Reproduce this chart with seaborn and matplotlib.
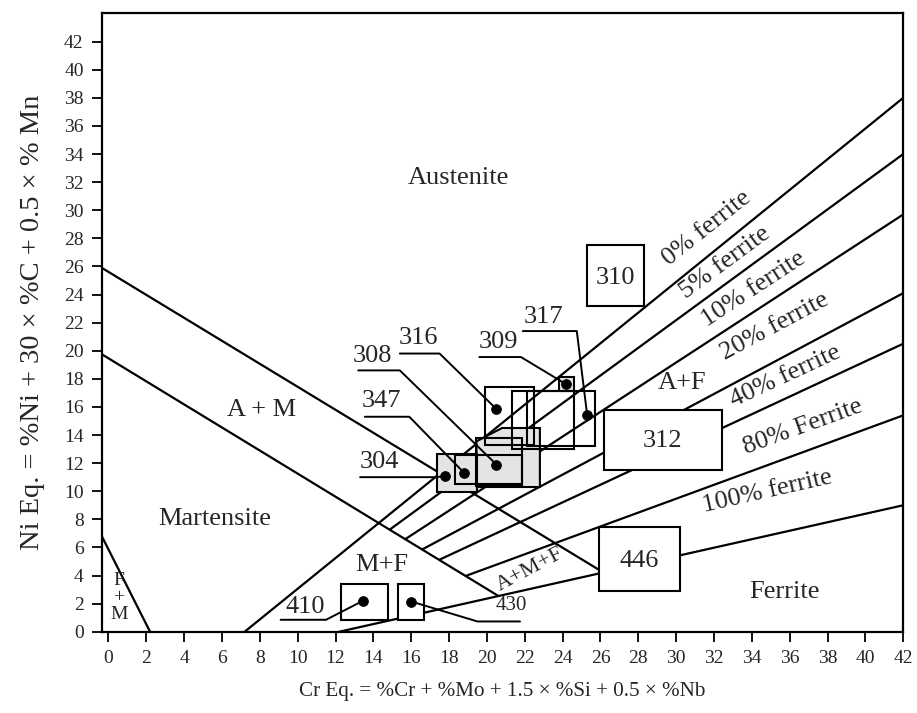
import matplotlib
matplotlib.use("Agg")
import matplotlib.pyplot as plt
from matplotlib.patches import Rectangle, Polygon
import numpy as np
import pandas as pd
import seaborn as sns

# ---- phase boundaries (Cr eq., Ni eq.) end points ----
boundary_names = ["A/A+M", "M/A+M", "F+M", "0% ferrite", "5% ferrite", "10% ferrite",
                  "20% ferrite", "40% ferrite", "80% Ferrite", "100% ferrite"]
boundary_x0 = [-0.35, -0.35, -0.35, 7.2, 14.9, 15.7, 16.6, 17.5, 18.9, 12.2]
boundary_y0 = [25.9, 19.75, 6.8, 0.0, 7.3, 6.6, 5.87, 5.13, 3.98, 0.0]
boundary_x1 = [26.15, 20.6, 2.2, 42.0, 42.0, 42.0, 42.0, 42.0, 42.0, 42.0]
boundary_y1 = [4.22, 2.55, 0.0, 38.0, 34.0, 29.7, 24.1, 20.5, 15.4, 9.0]

# ---- ferrite line labels ----
ferrite_labels = ["0% ferrite", "5% ferrite", "10% ferrite", "20% ferrite",
                  "40% ferrite", "80% Ferrite", "100% ferrite"]
ferrite_label_x = [31.6, 32.6, 34.1, 35.2, 35.8, 36.7, 34.8]
ferrite_label_y = [28.7, 26.3, 24.4, 21.7, 18.2, 14.6, 10.0]
ferrite_label_rot = [38.5, 36.4, 33.3, 28.2, 25.0, 20.0, 12.7]

# ---- alloy grades: composition ranges (x0, x1, y0, y1) ----
range_names = ["304", "347", "308", "316", "309", "309s", "317", "310", "312", "446", "410", "430"]
range_x0 = [17.35, 18.3, 19.45, 19.9, 21.3, 23.8, 22.1, 25.3, 26.2, 25.9, 12.3, 15.3]
range_x1 = [19.47, 21.85, 21.85, 22.5, 24.6, 24.6, 25.7, 28.3, 32.4, 30.2, 14.8, 16.7]
range_y0 = [9.96, 10.5, 10.35, 13.3, 12.98, 17.1, 13.2, 23.2, 11.5, 2.9, 0.85, 0.85]
range_y1 = [12.67, 12.6, 13.8, 17.4, 17.1, 18.15, 17.1, 27.5, 15.8, 7.45, 3.4, 3.4]
range_fill = ["#e4e4e4", "none", "none", "none", "none", "#e4e4e4", "none",
              "white", "white", "white", "white", "white"]

# bevelled 308 range
poly308_x = [19.45, 22.8, 22.8, 20.8, 19.45]
poly308_y = [10.3, 10.3, 14.5, 14.5, 13.55]

# ---- typical compositions (dots) ----
grade_names = ["304", "347", "308", "316", "309", "317", "410", "430"]
grade_cr = [17.8, 18.8, 20.5, 20.5, 24.2, 25.3, 13.45, 16.0]
grade_ni = [11.1, 11.3, 11.9, 15.85, 17.6, 15.4, 2.2, 2.15]

# leader lines: label position, underline start/end, then to the dot
leader_label_x = [14.3, 14.45, 13.95, 16.4, 20.6, 23.0, 10.4]
leader_label_y = [11.3, 15.65, 18.85, 20.15, 19.85, 21.65, 1.0]
leader_u0 = [13.3, 13.55, 13.2, 15.4, 19.6, 21.9, 9.1]
leader_u1 = [17.35, 15.9, 15.4, 17.5, 21.8, 24.75, 11.5]
leader_uy = [11.0, 15.3, 18.6, 19.8, 19.55, 21.4, 0.85]

# 430 leader
lead430_x = [16.0, 19.5, 21.75]
lead430_y = [2.15, 0.73, 0.73]

# inside-box labels
box_labels = ["310", "312", "446"]
box_label_x = [26.8, 29.3, 28.05]
box_label_y = [25.2, 13.55, 5.05]

# region labels
region_text = ["Austenite", "A + M", "Martensite", "M+F", "Ferrite", "A+F", "430"]
region_x = [18.5, 8.1, 5.6, 14.45, 35.7, 30.3, 21.3]
region_y = [32.3, 15.8, 8.0, 4.77, 2.85, 17.7, 1.85]
region_size = [19, 19, 19, 19, 19, 19, 15]

x_ticks = list(range(0, 43, 2))
y_ticks = list(range(0, 43, 2))

sns.set_theme(style="ticks")
plt.rcParams["font.family"] = ["Liberation Serif", "DejaVu Serif"]

fig = plt.figure(figsize=(9.17, 7.13), dpi=100)
ax = fig.add_axes([0.111, 0.114, 0.874, 0.868])

# boundary lines
seg_rows = []
for i, n in enumerate(boundary_names):
    seg_rows.append({"seg": n, "order": 0, "x": boundary_x0[i], "y": boundary_y0[i]})
    seg_rows.append({"seg": n, "order": 1, "x": boundary_x1[i], "y": boundary_y1[i]})
seg_df = pd.DataFrame(seg_rows)
sns.lineplot(data=seg_df, x="x", y="y", units="seg", estimator=None, sort=False,
             color="black", lw=1.6, ax=ax, legend=False, zorder=2)

# composition ranges
for i, n in enumerate(range_names):
    fc = range_fill[i]
    ax.add_patch(Rectangle((range_x0[i], range_y0[i]), range_x1[i] - range_x0[i],
                           range_y1[i] - range_y0[i], facecolor=fc,
                           edgecolor="black", lw=1.5,
                           zorder=4 if fc == "white" else 3))
ax.add_patch(Polygon(np.column_stack([poly308_x, poly308_y]), closed=True,
                     facecolor="#e4e4e4", edgecolor="black", lw=1.5, zorder=2.5))

# leader lines
for i in range(len(leader_u0)):
    ax.plot([leader_u0[i], leader_u1[i], grade_cr[i]],
            [leader_uy[i], leader_uy[i], grade_ni[i]], color="black", lw=1.4, zorder=5)
    ax.text(leader_label_x[i], leader_label_y[i], grade_names[i], ha="center",
            va="bottom", fontsize=19, zorder=6)
ax.plot(lead430_x, lead430_y, color="black", lw=1.4, zorder=5)

# typical compositions
dot_df = pd.DataFrame({"cr": grade_cr, "ni": grade_ni, "grade": grade_names})
sns.scatterplot(data=dot_df, x="cr", y="ni", color="black", s=50, edgecolor="black",
                ax=ax, zorder=7, legend=False)

for i, t in enumerate(box_labels):
    ax.text(box_label_x[i], box_label_y[i], t, ha="center", va="center",
            fontsize=19, zorder=6)

for i, t in enumerate(region_text):
    ax.text(region_x[i], region_y[i], t, ha="center", va="center",
            fontsize=region_size[i], zorder=6)

ax.text(0.55, 2.4, "F\n+\nM", ha="center", va="center", fontsize=14,
        linespacing=1.0, zorder=6)
ax.text(22.3, 4.4, "A+M+F", ha="center", va="center", fontsize=16, rotation=28, zorder=6)

for i, t in enumerate(ferrite_labels):
    ax.text(ferrite_label_x[i], ferrite_label_y[i], t, ha="center", va="center",
            fontsize=19, rotation=ferrite_label_rot[i], rotation_mode="anchor", zorder=6)

ax.set_xlim(-0.35, 42)
ax.set_ylim(0, 44.05)
ax.set_xticks(x_ticks)
ax.set_yticks(y_ticks)
ax.tick_params(axis="both", direction="out", length=7, width=1.3, labelsize=14,
               color="black", pad=6)
for s in ax.spines.values():
    s.set_linewidth(1.6)
    s.set_color("black")
    s.set_visible(True)

ax.set_xlabel("Cr Eq. = %Cr + %Mo + 1.5 × %Si + 0.5 × %Nb", fontsize=15.2, labelpad=11)
ax.set_ylabel("Ni Eq. = %Ni + 30 × %C + 0.5 × % Mn", fontsize=20.5, labelpad=14)

fig.savefig("out.png", dpi=100, facecolor="white")
